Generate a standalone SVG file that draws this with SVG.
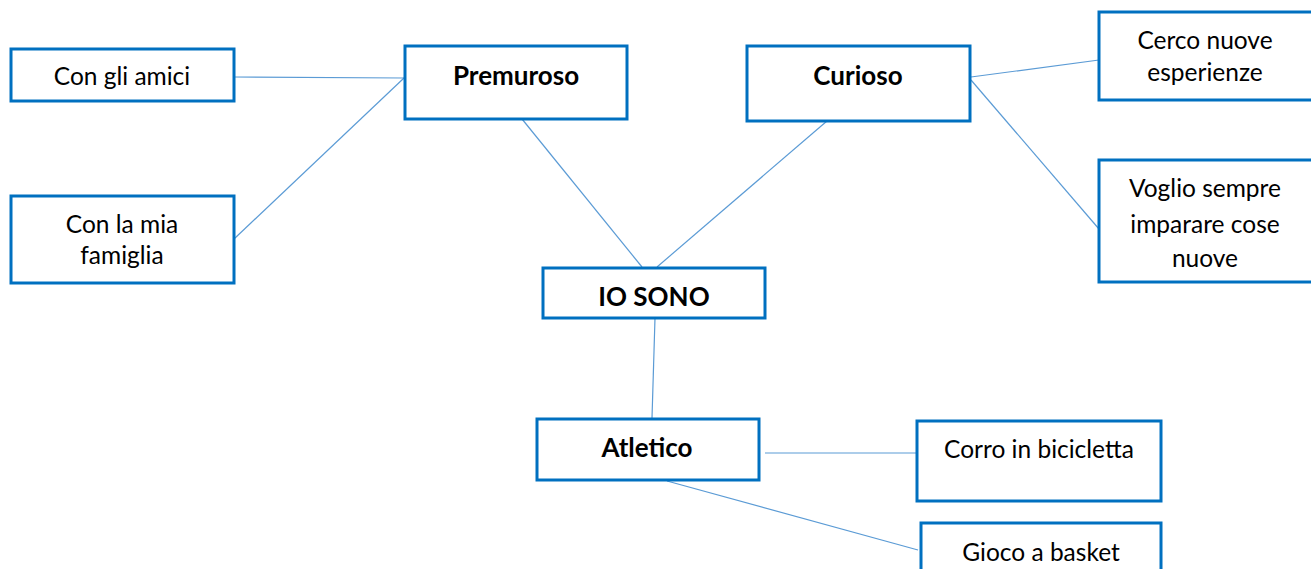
<svg xmlns="http://www.w3.org/2000/svg" width="1311" height="569" viewBox="0 0 1311 569">
<style>
.box{fill:#fff;stroke:#0070C0;stroke-width:3}
.t{font-family:Lato,"Liberation Sans",sans-serif;font-size:24.5px;fill:#000;text-anchor:middle}
.b{font-weight:bold;font-size:26px}
.c{stroke:#5B9BD5;stroke-width:1.2;fill:none}
</style>
<rect width="1311" height="569" fill="#fff"/>
<g id="connectors">
<line class="c" x1="234" y1="77" x2="404" y2="78"/>
<line class="c" x1="234" y1="239" x2="404" y2="78"/>
<line class="c" x1="522" y1="119" x2="642" y2="267"/>
<line class="c" x1="827" y1="121" x2="657" y2="267"/>
<line class="c" x1="971" y1="77" x2="1099" y2="60"/>
<line class="c" x1="971" y1="80" x2="1099" y2="229"/>
<line class="c" x1="655" y1="318" x2="652" y2="418"/>
<line class="c" x1="765" y1="453" x2="916" y2="453"/>
<line class="c" x1="667" y1="481" x2="918" y2="550"/>
</g>
<g id="n-amici"><rect class="box" x="11" y="49" width="223" height="52"/><text class="t" x="122" y="85">Con gli amici</text></g>
<g id="n-famiglia"><rect class="box" x="11" y="196" width="223" height="87"/><text class="t" x="122" y="233">Con la mia</text><text class="t" x="122" y="264">famiglia</text></g>
<g id="n-premuroso"><rect class="box" x="405" y="46" width="222" height="73"/><text class="t b" x="516" y="85">Premuroso</text></g>
<g id="n-curioso"><rect class="box" x="747" y="46" width="223" height="75"/><text class="t b" x="858" y="85">Curioso</text></g>
<g id="n-cerco"><rect class="box" x="1099" y="12" width="214" height="88"/><text class="t" x="1205" y="49">Cerco nuove</text><text class="t" x="1205" y="81">esperienze</text></g>
<g id="n-voglio"><rect class="box" x="1099" y="160" width="214" height="122"/><text class="t" x="1205" y="197">Voglio sempre</text><text class="t" x="1205" y="233">imparare cose</text><text class="t" x="1205" y="267">nuove</text></g>
<g id="n-iosono"><rect class="box" x="543" y="268" width="222" height="50"/><text class="t b" x="654" y="306">IO SONO</text></g>
<g id="n-atletico"><rect class="box" x="537" y="419" width="222" height="61"/><text class="t b" x="647" y="457">Atletico</text></g>
<g id="n-corro"><rect class="box" x="917" y="421" width="244" height="80"/><text class="t" x="1039" y="458">Corro in bicicletta</text></g>
<g id="n-gioco"><rect class="box" x="921" y="523" width="240" height="60"/><text class="t" x="1041" y="561">Gioco a basket</text></g>
</svg>
